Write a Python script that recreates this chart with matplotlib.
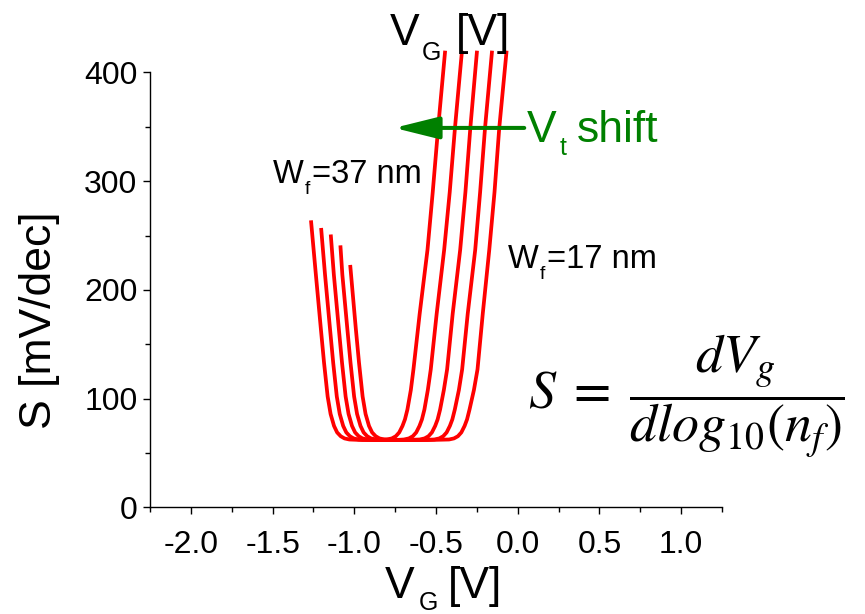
import matplotlib
matplotlib.use("Agg")
import matplotlib.pyplot as plt
from matplotlib.ticker import MultipleLocator, FormatStrFormatter

plt.rcParams['font.family'] = ['Liberation Sans', 'DejaVu Sans']
plt.rcParams['axes.unicode_minus'] = False

# Subthreshold swing S (mV/dec) vs gate voltage for five fin widths,
# from W_f = 37 nm (leftmost) to W_f = 17 nm (rightmost)
vg_wf37 = [-1.265, -1.235, -1.205, -1.185, -1.163, -1.145, -1.124, -1.105, -1.083, -1.060, -1.030,
           -0.950, -0.850, -0.800, -0.770, -0.746, -0.725, -0.705, -0.690, -0.675, -0.654, -0.638,
           -0.600, -0.552, -0.520, -0.487, -0.444]
s_wf37 = [264, 214, 165, 133, 102, 86, 75, 69, 65.5, 63.5, 62.5,
          62, 62, 62.5, 63.5, 65.5, 69, 75, 81, 90, 108, 127,
          178, 237, 290, 349, 420]

vg_wf32 = [-1.203, -1.179, -1.149, -1.129, -1.107, -1.089, -1.068, -1.049, -1.027, -1.004, -0.974,
           -0.850, -0.750, -0.696, -0.666, -0.642, -0.621, -0.601, -0.586, -0.571, -0.550, -0.532,
           -0.496, -0.450, -0.416, -0.384, -0.341]
s_wf32 = [257, 214, 165, 133, 102, 86, 75, 69, 65.5, 63.5, 62.5,
          62, 62, 62.5, 63.5, 65.5, 69, 75, 81, 90, 108, 127,
          178, 237, 290, 349, 420]

vg_wf27 = [-1.144, -1.125, -1.095, -1.075, -1.053, -1.035, -1.014, -0.995, -0.973, -0.950, -0.920,
           -0.800, -0.700, -0.600, -0.570, -0.546, -0.525, -0.505, -0.490, -0.475, -0.452, -0.432,
           -0.398, -0.352, -0.320, -0.290, -0.249]
s_wf27 = [251, 214, 165, 133, 102, 86, 75, 69, 65.5, 63.5, 62.5,
          62, 62, 62.5, 63.5, 65.5, 69, 75, 81, 90, 108, 127,
          178, 237, 290, 349, 420]

vg_wf22 = [-1.085, -1.073, -1.043, -1.023, -1.001, -0.983, -0.962, -0.943, -0.921, -0.898, -0.868,
           -0.750, -0.600, -0.510, -0.480, -0.456, -0.435, -0.415, -0.400, -0.385, -0.360, -0.340,
           -0.306, -0.260, -0.230, -0.200, -0.157]
s_wf22 = [241, 214, 165, 133, 102, 86, 75, 69, 65.5, 63.5, 62.5,
          62, 62, 62.5, 63.5, 65.5, 69, 75, 81, 90, 108, 127,
          178, 237, 290, 349, 420]

vg_wf17 = [-1.025, -0.991, -0.971, -0.949, -0.931, -0.910, -0.891, -0.869, -0.846, -0.816,
           -0.700, -0.550, -0.420, -0.390, -0.366, -0.345, -0.325, -0.310, -0.295, -0.268, -0.246,
           -0.214, -0.174, -0.142, -0.113, -0.068]
s_wf17 = [223, 165, 133, 102, 86, 75, 69, 65.5, 63.5, 62.5,
          62, 62, 62.5, 63.5, 65.5, 69, 75, 81, 90, 108, 127,
          178, 237, 290, 349, 420]

curves = [(vg_wf37, s_wf37), (vg_wf32, s_wf32), (vg_wf27, s_wf27),
          (vg_wf22, s_wf22), (vg_wf17, s_wf17)]

W, H = 865, 614
fig = plt.figure(figsize=(W / 100, H / 100), dpi=100)
ax = fig.add_axes([0.1734, 0.1735, 0.6613, 0.7085])

for vg, s in curves:
    ax.plot(vg, s, color='red', lw=2.7, clip_on=False, solid_joinstyle='round',
            solid_capstyle='butt')

ax.set_xlim(-2.25, 1.25)
ax.set_ylim(0, 400)
ax.xaxis.set_major_locator(MultipleLocator(0.5))
ax.xaxis.set_minor_locator(MultipleLocator(0.25))
ax.xaxis.set_major_formatter(FormatStrFormatter('%.1f'))
ax.yaxis.set_major_locator(MultipleLocator(100))
ax.yaxis.set_minor_locator(MultipleLocator(50))
for side in ('top', 'right'):
    ax.spines[side].set_visible(False)
for side in ('left', 'bottom'):
    ax.spines[side].set_linewidth(1.0)
ax.tick_params(which='major', direction='out', length=5, width=1, labelsize=23)
ax.tick_params(axis='x', which='major', pad=11)
ax.tick_params(axis='y', which='major', pad=4)
ax.tick_params(which='minor', direction='out', length=3.5, width=1)


def put(x_px, y_px, s, size, color='black'):
    """Place a text piece with its left edge / baseline at pixel coordinates."""
    fig.text(x_px / W, 1 - y_px / H, s, fontsize=size, color=color, ha='left', va='baseline')


# y-axis label
fig.text(40 / W, 1 - 320 / H, 'S [mV/dec]', rotation=90, ha='center', va='center', fontsize=32)

# x-axis label (bottom) and the same label repeated above the plot
put(385, 598, 'V', 32)
put(419, 610, 'G', 18)
put(448, 598, '[V]', 32)

put(390, 45, 'V', 32)
put(422, 60, 'G', 18)
put(456, 45, '[V]', 32)

# fin-width annotations
put(273, 183, 'W', 23.5)
put(305, 194, 'f', 14)
put(312, 183, '=37 nm', 23.5)

put(508, 268, 'W', 23.5)
put(540, 279, 'f', 14)
put(547, 268, '=17 nm', 23.5)

# threshold-voltage shift arrow
put(527, 142, 'V', 32, 'green')
put(560, 155, 't', 18, 'green')
put(577, 142, 'shift', 32, 'green')
ax.annotate('', xy=(-0.756, 349), xytext=(0.04, 349), annotation_clip=False,
            arrowprops=dict(arrowstyle='-|>,head_length=1.37,head_width=0.34', mutation_scale=20,
                            color='green', lw=2.9, shrinkA=0, shrinkB=0))

# definition of the subthreshold swing
fig.text(528 / W, 1 - 396 / H, r'$S\;=\;\dfrac{dV_g}{dlog_{10}(n_f)}$', ha='left', va='center',
         fontsize=39, math_fontfamily='stix')

fig.savefig('out.png', dpi=100)
